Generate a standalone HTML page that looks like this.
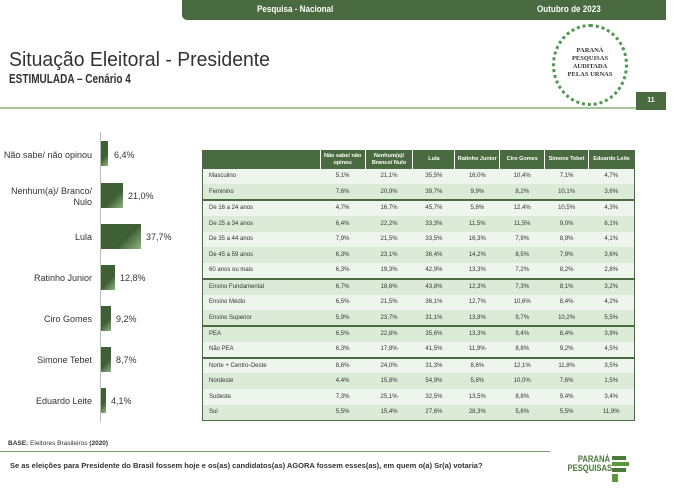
<!DOCTYPE html>
<html><head><meta charset="utf-8"><style>
*{margin:0;padding:0;box-sizing:border-box}
body{width:696px;height:500px;background:#fff;font-family:"Liberation Sans",sans-serif;position:relative;overflow:hidden;color:#222}
.abs{position:absolute}
table{border-collapse:collapse;font-size:6px;color:#333}
td{height:15.75px;text-align:center;padding:0}
td:first-child{text-align:left;padding-left:6px}
th{background:#4a6b3f;color:#fff;font-size:5.5px;font-weight:bold;height:18px;border-left:1px solid #fff;line-height:1.2}
th:first-child{border-left:none}
tr.l td{background:#eef5ec}
tr.d td{background:#dcebd7}
tr.sep td{border-top:2px solid #4a6b3f}
.lab{position:absolute;right:604px;font-size:9px;color:#333;text-align:right;line-height:11px}
.bar{position:absolute;left:101px;height:25px;background:linear-gradient(135deg,#3f5f35 60%,#8fb57f)}
.val{position:absolute;font-size:9px;color:#333}
</style></head><body>
<div class="abs" style="left:182px;top:0;width:484px;height:20px;background:#4a6b3f;border-bottom-left-radius:5px"></div>
<div class="abs" style="left:257px;top:4px;color:#fff;font-size:9.5px;font-weight:bold;transform:scaleX(0.85);transform-origin:left">Pesquisa - Nacional</div>
<div class="abs" style="left:537px;top:4px;color:#fff;font-size:9.5px;font-weight:bold;transform:scaleX(0.85);transform-origin:left">Outubro de 2023</div>
<div class="abs" style="left:9px;top:49px;font-size:20px;color:#333;transform:scaleX(0.97);transform-origin:left">Situação Eleitoral - Presidente</div>
<div class="abs" style="left:9px;top:72px;font-size:12.5px;font-weight:bold;color:#333;transform:scaleX(0.8);transform-origin:left">ESTIMULADA – Cenário 4</div>
<div class="abs" style="left:0;top:107px;width:655px;height:2px;background:#a9c49a"></div>
<div class="abs" style="left:552px;top:24px;width:76px;height:82px;border-radius:50%;border:3px dotted #4a9a4a"></div>
<div class="abs" style="left:562px;top:47px;width:56px;text-align:center;font-family:'Liberation Serif',serif;font-size:6.5px;font-weight:bold;color:#333;line-height:8px">PARANÁ PESQUISAS<br>AUDITADA<br>PELAS URNAS</div>
<div class="abs" style="left:636px;top:92px;width:30px;height:18px;background:#4a6b3f;color:#fff;font-size:7px;font-weight:bold;text-align:center;line-height:18px">11</div>

<div class="abs" style="left:100px;top:132px;width:1px;height:290px;background:#bbb"></div>
<div class="lab" style="top:150px">Não sabe/ não opinou</div>
<div class="lab" style="top:186px">Nenhum(a)/ Branco/<br>Nulo</div>
<div class="lab" style="top:232px">Lula</div>
<div class="lab" style="top:273px">Ratinho Junior</div>
<div class="lab" style="top:314px">Ciro Gomes</div>
<div class="lab" style="top:355px">Simone Tebet</div>
<div class="lab" style="top:396px">Eduardo Leite</div>
<div class="bar" style="top:141px;width:7px"></div><div class="val" style="left:114px;top:150px">6,4%</div>
<div class="bar" style="top:183px;width:22px"></div><div class="val" style="left:128px;top:191px">21,0%</div>
<div class="bar" style="top:224px;width:40px"></div><div class="val" style="left:146px;top:232px">37,7%</div>
<div class="bar" style="top:265px;width:14px"></div><div class="val" style="left:120px;top:273px">12,8%</div>
<div class="bar" style="top:306px;width:10px"></div><div class="val" style="left:116px;top:314px">9,2%</div>
<div class="bar" style="top:347px;width:10px"></div><div class="val" style="left:116px;top:355px">8,7%</div>
<div class="bar" style="top:388px;width:5px"></div><div class="val" style="left:111px;top:396px">4,1%</div>

<table class="abs" style="left:202px;top:150px;width:433px;border:1.5px solid #4a6b3f">
<colgroup><col style="width:118px"><col style="width:45px"><col style="width:48px"><col style="width:42px"><col style="width:45px"><col style="width:45px"><col style="width:44px"><col style="width:46px"></colgroup>
<tr><th></th><th>Não sabe/ não<br>opinou</th><th>Nenhum(a)/<br>Branco/ Nulo</th><th>Lula</th><th>Ratinho Junior</th><th>Ciro Gomes</th><th>Simone Tebet</th><th>Eduardo Leite</th></tr>
<tr class="l"><td>Masculino</td><td>5,1%</td><td>21,1%</td><td>35,5%</td><td>16,0%</td><td>10,4%</td><td>7,1%</td><td>4,7%</td></tr>
<tr class="d"><td>Feminino</td><td>7,6%</td><td>20,9%</td><td>39,7%</td><td>9,9%</td><td>8,2%</td><td>10,1%</td><td>3,6%</td></tr>
<tr class="l sep"><td>De 16 a 24 anos</td><td>4,7%</td><td>16,7%</td><td>45,7%</td><td>5,8%</td><td>12,4%</td><td>10,5%</td><td>4,3%</td></tr>
<tr class="d"><td>De 25 a 34 anos</td><td>6,4%</td><td>22,2%</td><td>33,3%</td><td>11,5%</td><td>11,5%</td><td>9,0%</td><td>6,1%</td></tr>
<tr class="l"><td>De 35 a 44 anos</td><td>7,9%</td><td>21,5%</td><td>33,5%</td><td>16,3%</td><td>7,9%</td><td>8,9%</td><td>4,1%</td></tr>
<tr class="d"><td>De 45 a 59 anos</td><td>6,3%</td><td>23,1%</td><td>36,4%</td><td>14,2%</td><td>8,5%</td><td>7,9%</td><td>3,6%</td></tr>
<tr class="l"><td>60 anos ou mais</td><td>6,3%</td><td>19,3%</td><td>42,9%</td><td>13,3%</td><td>7,2%</td><td>8,2%</td><td>2,8%</td></tr>
<tr class="d sep"><td>Ensino Fundamental</td><td>6,7%</td><td>18,6%</td><td>43,8%</td><td>12,3%</td><td>7,3%</td><td>8,1%</td><td>3,2%</td></tr>
<tr class="l"><td>Ensino Médio</td><td>6,5%</td><td>21,5%</td><td>36,1%</td><td>12,7%</td><td>10,6%</td><td>8,4%</td><td>4,2%</td></tr>
<tr class="d"><td>Ensino Superior</td><td>5,9%</td><td>23,7%</td><td>31,1%</td><td>13,8%</td><td>9,7%</td><td>10,2%</td><td>5,5%</td></tr>
<tr class="d sep"><td>PEA</td><td>6,5%</td><td>22,8%</td><td>35,6%</td><td>13,3%</td><td>9,4%</td><td>8,4%</td><td>3,9%</td></tr>
<tr class="l"><td>Não PEA</td><td>6,3%</td><td>17,8%</td><td>41,5%</td><td>11,9%</td><td>8,8%</td><td>9,2%</td><td>4,5%</td></tr>
<tr class="l sep"><td>Norte + Centro-Oeste</td><td>8,6%</td><td>24,0%</td><td>31,3%</td><td>8,6%</td><td>12,1%</td><td>11,8%</td><td>3,5%</td></tr>
<tr class="d"><td>Nordeste</td><td>4,4%</td><td>15,8%</td><td>54,9%</td><td>5,8%</td><td>10,0%</td><td>7,6%</td><td>1,5%</td></tr>
<tr class="l"><td>Sudeste</td><td>7,3%</td><td>25,1%</td><td>32,5%</td><td>13,5%</td><td>8,8%</td><td>9,4%</td><td>3,4%</td></tr>
<tr class="d"><td>Sul</td><td>5,5%</td><td>15,4%</td><td>27,6%</td><td>28,3%</td><td>5,8%</td><td>5,5%</td><td>11,9%</td></tr>
</table>

<div class="abs" style="left:8px;top:440px;font-size:6.5px;color:#333"><b>BASE:</b> Eleitores Brasileiros <b>(2020)</b></div>
<div class="abs" style="left:0;top:451px;width:550px;height:1px;background:#7aa06a"></div>
<div class="abs" style="left:10px;top:461px;font-size:7.5px;font-weight:bold;color:#333">Se as eleições para Presidente do Brasil fossem hoje e os(as) candidatos(as) AGORA fossem esses(as), em quem o(a) Sr(a) votaria?</div>
<div class="abs" style="left:560px;top:455px;font-size:9px;font-weight:bold;color:#4a7a3a;line-height:9px;text-align:right;width:50px;transform:scaleX(0.85);transform-origin:right">PARANÁ<br>PESQUISAS</div>
<div class="abs" style="left:612px;top:456px;width:14px;height:4px;background:#4a7a3a"></div>
<div class="abs" style="left:612px;top:462px;width:17px;height:4px;background:#5a9a3a"></div>
<div class="abs" style="left:612px;top:468px;width:14px;height:4px;background:#4a7a3a"></div>
<div class="abs" style="left:612px;top:474px;width:6px;height:8px;background:#5a9a3a"></div>
</body></html>
